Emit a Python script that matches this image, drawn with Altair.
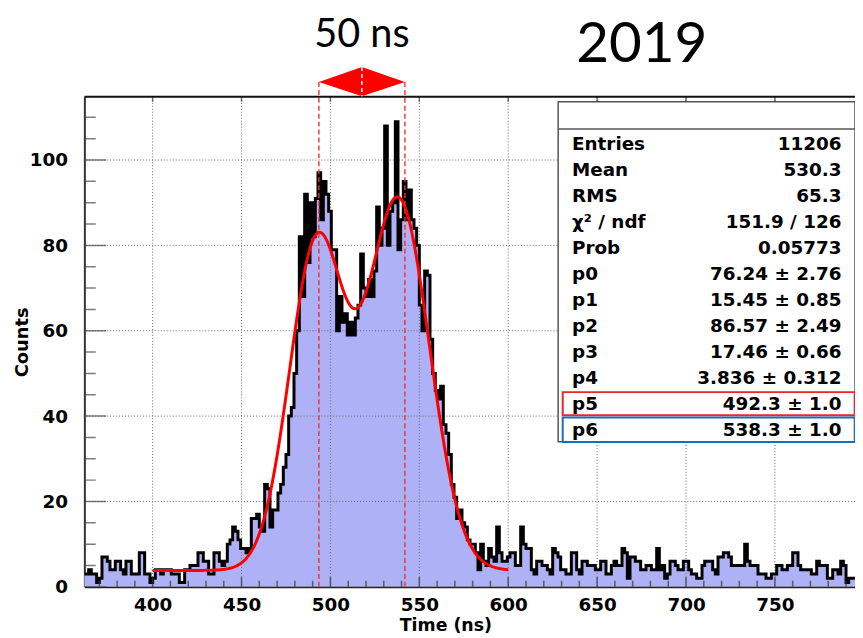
import altair as alt
import numpy as np
import pandas as pd

# ---------------- data ----------------
bin_start = 361.0
bin_width = 1.5
counts = (
    [3, 3, 4, 3, 3, 1, 2, 7, 7, 6]            # 361-376
    + [4, 4, 6, 6, 4, 3, 6, 6, 3, 3]          # 376-391
    + [3, 8, 8, 3, 3, 1, 2, 4, 4, 3]          # 391-406
    + [4, 4, 4, 3, 3, 3, 1, 1, 4, 4]          # 406-421
    + [5, 5, 5, 8, 8, 6, 6, 3, 3, 8]          # 421-436
    + [8, 6, 5, 6, 10, 11, 14, 13, 11, 9]     # 436-451
    + [9, 8, 9, 16, 16, 17, 14, 13, 24, 23]   # 451-466
    + [14, 18, 18, 22, 24, 28, 31, 40, 42, 50]  # 466-481
    + [60, 82, 68, 92, 76, 90, 82, 91, 97, 86]  # 481-496
    + [95, 92, 88, 79, 79, 60, 68, 62, 64, 59]  # 496-511
    + [62, 59, 63, 66, 78, 70, 68, 72, 68, 74]  # 511-526
    + [89, 80, 84, 108, 80, 88, 90, 109, 79, 86]  # 526-541
    + [95, 86, 93, 86, 84, 80, 66, 60, 74, 73]  # 541-556
    + [58, 50, 46, 44, 47, 38, 36, 31, 24, 21]  # 556-571
    + [16, 18, 15, 14, 11, 10, 10, 8, 4, 10]    # 571-586
    + [6, 5, 9, 7, 6, 14, 8, 6, 6, 7]           # 586-601
    + [8, 8, 5, 5, 14, 10, 9, 9, 4, 3]          # 601-616
    + [6, 6, 5, 5, 4, 3, 9, 8, 7, 4]            # 616-631
    + [4, 3, 3, 8, 8, 4, 3, 6, 6, 5]            # 631-646
    + [5, 5, 4, 4, 6, 6, 3, 3, 5, 6]            # 646-661
    + [5, 5, 9, 8, 2, 7, 7, 6, 6, 4]            # 661-676
    + [4, 5, 5, 4, 4, 9, 4, 5, 2, 3]            # 676-691
    + [6, 6, 5, 4, 4, 6, 6, 4, 3, 3]            # 691-706
    + [2, 2, 5, 6, 6, 6, 4, 3, 7, 7]            # 706-721
    + [8, 8, 7, 5, 5, 5, 5, 5, 10, 6]           # 721-736
    + [5, 5, 5, 3, 3, 3, 2, 2, 3, 3]            # 736-751
    + [5, 5, 4, 4, 5, 5, 8, 8, 5, 4]            # 751-766
    + [4, 4, 4, 3, 3, 6, 5, 5, 5, 2]            # 766-781
    + [2, 4, 4, 3, 6, 5, 1, 2, 2, 2]            # 781-796
    + [2]                                       # 796-797.5
)

# fit parameters as printed in the stats box (p0..p6)
fit_params = [76.24, 15.45, 86.57, 17.46, 3.836, 492.3, 538.3]
fit_range = [400.0, 600.0]

x_major = [400, 450, 500, 550, 600, 650, 700, 750]
x_minor = [v for v in range(370, 800, 10) if v % 50]
y_major = [0, 20, 40, 60, 80, 100]
y_minor = [v for v in range(5, 115, 5) if v % 20]

stat_labels = ["Entries", "Mean", "RMS", "χ² / ndf", "Prob", "p0", "p1", "p2",
               "p3", "p4", "p5", "p6"]
stat_values = ["11206", "530.3", "65.3", "151.9 / 126", "0.05773",
               "76.24 ± 2.76", "15.45 ± 0.85", "86.57 ± 2.49", "17.46 ± 0.66",
               "3.836 ± 0.312", "492.3 ± 1.0", "538.3 ± 1.0"]

peak_marks = [493.5, 541.9]
arrow_label = "50 ns"
year_label = "2019"

# ---------------- layout ----------------
W, H = 777, 494
XMIN = 361.6
XMAX = XMIN + W / 1.7926
YMAX = 114.8


def dx(px):
    return XMIN + px * (XMAX - XMIN) / W


def dy(py):
    return YMAX - py * YMAX / H


xs = alt.Scale(domain=[XMIN, XMAX], nice=False, zero=False)
ys = alt.Scale(domain=[0, YMAX], nice=False, zero=False)
FONT = "DejaVu Sans"

edges = bin_start + bin_width * np.arange(len(counts) + 1)
hist = pd.DataFrame({"t": edges, "n": counts + [counts[-1]]})

p0, p1, p2, p3, p4, p5, p6 = fit_params
tf = np.arange(fit_range[0], fit_range[1] + 0.01, 0.5)
ff = p0 * np.exp(-0.5 * ((tf - p5) / p1) ** 2) + p2 * np.exp(-0.5 * ((tf - p6) / p3) ** 2) + p4
fit = pd.DataFrame({"t": tf, "n": ff})

xaxis = alt.Axis(values=x_major, format="d", labelFont=FONT, labelFontWeight="bold",
                 labelFontSize=18.5, labelColor="black", labelPadding=9, ticks=False,
                 grid=False, domainColor="#222", domainWidth=2, labelOverlap=False,
                 labelFlush=False, title="Time (ns)", titleFont=FONT,
                 titleFontWeight="bold", titleFontSize=17.5, titleColor="black",
                 titleX=364, titleY=39, titleAlign="center", titleBaseline="middle")
yaxis = alt.Axis(values=y_major, format="d", labelFont=FONT, labelFontWeight="bold",
                 labelFontSize=18.5, labelColor="black", labelPadding=17, ticks=False,
                 grid=False, domainColor="#333", domainWidth=2, labelOverlap=False,
                 title="Counts", titleFont=FONT, titleFontWeight="bold",
                 titleFontSize=18, titleColor="black", titleX=-62, titleY=H / 2,
                 titleAngle=270, titleAlign="center", titleBaseline="middle")

X = lambda f="t": alt.X(f"{f}:Q", scale=xs, axis=xaxis)
Y = lambda f="n": alt.Y(f"{f}:Q", scale=ys, axis=yaxis)

area = alt.Chart(hist).mark_area(interpolate="step-after", color="#aeb1f5", clip=True).encode(
    x=X(), y=Y())

gridx = alt.Chart(pd.DataFrame({"t": x_major})).mark_rule(
    color="#6a6a6a", strokeWidth=1, strokeDash=[1, 2]).encode(x=X())
gridy = alt.Chart(pd.DataFrame({"n": y_major[1:]})).mark_rule(
    color="#6a6a6a", strokeWidth=1, strokeDash=[1, 2]).encode(y=Y())

line = alt.Chart(hist).mark_line(interpolate="step-after", color="black", strokeWidth=3,
                                 clip=True).encode(x=X(), y=Y())
fitline = alt.Chart(fit).mark_line(color="#ff0000", strokeWidth=3, clip=True).encode(x=X(), y=Y())

dash = alt.Chart(pd.DataFrame({"t": peak_marks, "a": [dy(-15)] * 2, "b": [0.0] * 2})).mark_rule(
    color="#f03030", strokeWidth=1.4, strokeDash=[5, 3]).encode(x=X(), y=Y("a"), y2="b:Q")

mid = (peak_marks[0] + peak_marks[1]) / 2
arrow = alt.Chart(pd.DataFrame({
    "t": [peak_marks[0], mid, peak_marks[1]],
    "lo": [dy(-15), dy(-0.5), dy(-15)],
    "hi": [dy(-15), dy(-30), dy(-15)]})).mark_area(color="#ff0000").encode(
    x=X(), y=Y("lo"), y2="hi:Q")
arrowmid = alt.Chart(pd.DataFrame({"t": [mid], "a": [dy(-30)], "b": [dy(-0.5)]})).mark_rule(
    color="white", strokeWidth=1.5, strokeDash=[4, 3]).encode(x=X(), y=Y("a"), y2="b:Q")
lab50 = alt.Chart(pd.DataFrame({"t": [mid], "n": [dy(-50)], "s": [arrow_label]})).mark_text(
    font="Lato", fontSize=40, align="center", baseline="alphabetic", color="black").encode(
    x=X(), y=Y(), text="s:N")
lab2019 = alt.Chart(pd.DataFrame({"t": [dx(562)], "n": [dy(-35)], "s": [year_label]})).mark_text(
    font="Lato", fontSize=57, align="center", baseline="alphabetic", color="black").encode(
    x=X(), y=Y(), text="s:N")

box = alt.Chart(pd.DataFrame({"a": [dx(477.7)], "b": [dx(777)], "c": [dy(5)], "d": [dy(347.7)]})).mark_rect(
    fill="white", stroke="#555", strokeWidth=1.5).encode(x=X("a"), x2="b:Q", y=Y("c"), y2="d:Q")
hdr = alt.Chart(pd.DataFrame({"a": [dx(477.7)], "b": [dx(777)], "c": [dy(32.3)]})).mark_rule(
    color="#555", strokeWidth=1.5).encode(x=X("a"), x2="b:Q", y=Y("c"))
rows = pd.DataFrame({
    "lx": [dx(491.7)] * len(stat_labels),
    "vx": [dx(763.3)] * len(stat_labels),
    "n": [dy(53.3 + i * 26.27) for i in range(len(stat_labels))],
    "lab": stat_labels, "val": stat_values})
labs = alt.Chart(rows).mark_text(font=FONT, fontWeight="bold", fontSize=18.5, align="left",
                                 baseline="alphabetic", color="black").encode(
    x=X("lx"), y=Y(), text="lab:N")
vals = alt.Chart(rows).mark_text(font=FONT, fontWeight="bold", fontSize=18.5, align="right",
                                 baseline="alphabetic", color="black").encode(
    x=X("vx"), y=Y(), text="val:N")
redbox = alt.Chart(pd.DataFrame({"a": [dx(482.3)], "b": [dx(776.7)], "c": [dy(297.7)], "d": [dy(321)]})).mark_rect(
    fillOpacity=0, stroke="#e8262b", strokeWidth=2).encode(x=X("a"), x2="b:Q", y=Y("c"), y2="d:Q")
bluebox = alt.Chart(pd.DataFrame({"a": [dx(482.3)], "b": [dx(776.7)], "c": [dy(323.3)], "d": [dy(348)]})).mark_rect(
    fillOpacity=0, stroke="#1b6db8", strokeWidth=2).encode(x=X("a"), x2="b:Q", y=Y("c"), y2="d:Q")

tick_layers = []
for vals_, size, ypos in ((x_major, 20, H), (x_minor, 12, H), (x_major, 10, 0)):
    tick_layers.append(alt.Chart(pd.DataFrame({"t": vals_})).mark_tick(
        orient="vertical", size=size, thickness=1.5, color="#333", clip=True).encode(
        x=X(), y=alt.value(ypos)))
for vals_, size in ((y_major, 44), (y_minor, 23)):
    tick_layers.append(alt.Chart(pd.DataFrame({"n": vals_})).mark_tick(
        orient="horizontal", size=size, thickness=1.5, color="#444", clip=True).encode(
        y=Y(), x=alt.value(0)))

topframe = alt.Chart(pd.DataFrame({"n": [YMAX]})).mark_rule(color="#111", strokeWidth=2).encode(y=Y())

chart = alt.layer(
    area, gridx, gridy, line, fitline, dash, box, hdr, labs, vals, redbox, bluebox,
    *tick_layers, topframe, arrow, arrowmid, lab50, lab2019
).properties(
    width=W, height=H,
    autosize=alt.AutoSizeParams(type="none"),
    padding={"left": 77, "top": 87, "right": 0, "bottom": 48},
    background="white",
).configure_view(stroke=None)

chart.save("out.html", embed_options={"renderer": "svg", "actions": False})
